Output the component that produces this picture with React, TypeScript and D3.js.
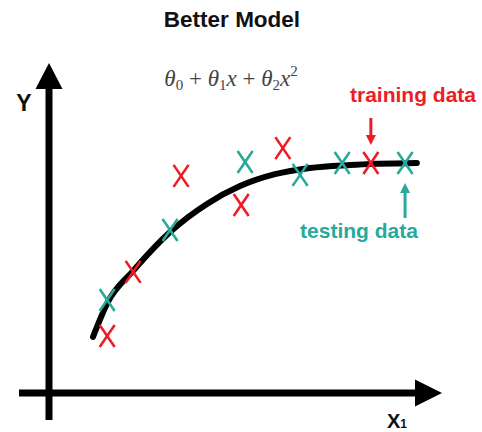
import React from "react";
import * as d3 from "d3";

const W = 482;
const H = 432;

// fitted curve
const curveX = [1.12, 1.5, 2.14, 3.08, 4.02, 4.86, 5.75, 6.64, 7.66, 9.36];
const curveY = [1.7, 2.76, 3.7, 4.88, 5.73, 6.27, 6.63, 6.82, 6.91, 6.97];

// training data (red)
const trainX = [1.48, 2.14, 3.36, 4.89, 5.95, 8.19];
const trainY = [1.73, 3.67, 6.58, 5.7, 7.42, 6.97];

// testing data (teal)
const testX = [1.48, 3.08, 4.99, 6.39, 7.46, 9.06];
const testY = [2.82, 4.94, 7.0, 6.61, 6.97, 6.97];

const RED = "#ee1c25";
const TEAL = "#27a99b";

export default function App() {
  const x = d3.scaleLinear().domain([0, 10]).range([49, 442]);
  const y = d3.scaleLinear().domain([0, 10]).range([393, 63]);

  const curvePts: [number, number][] = curveX.map((v, i) => [v, curveY[i]]);
  const line = d3
    .line<[number, number]>()
    .x((d) => x(d[0]))
    .y((d) => y(d[1]))
    .curve(d3.curveMonotoneX);

  const cross = (cx: number, cy: number, color: string, key: string) => {
    const hw = 7.5;
    const hh = 11;
    return (
      <g key={key} stroke={color} strokeWidth={2.6} strokeLinecap="butt">
        <line x1={cx - hw} y1={cy - hh} x2={cx + hw} y2={cy + hh} />
        <line x1={cx + hw} y1={cy - hh} x2={cx - hw} y2={cy + hh} />
      </g>
    );
  };

  const x0 = x(0);
  const y0 = y(0);
  const xEnd = x(10);
  const yTop = y(10);

  const redArrowX = x(trainX[5]);
  const tealArrowX = x(testX[5]);

  return (
    <svg
      width={W}
      height={H}
      style={{ position: "absolute", left: 0, top: 0, background: "#fff" }}
      fontFamily="'Liberation Sans', Arial, sans-serif"
    >
      {/* title */}
      <text x={232} y={27} textAnchor="middle" fontWeight="bold" fontSize={22.5} fill="#111">
        Better Model
      </text>

      {/* formula */}
      <text
        x={231}
        y={86}
        textAnchor="middle"
        fontFamily="'Liberation Serif', 'DejaVu Serif', serif"
        fontSize={23}
        fill="#444"
      >
        <tspan fontStyle="italic">θ</tspan>
        <tspan fontSize={15} dy={4}>0</tspan>
        <tspan dy={-4}> + </tspan>
        <tspan fontStyle="italic">θ</tspan>
        <tspan fontSize={15} dy={4}>1</tspan>
        <tspan dy={-4} fontStyle="italic">x</tspan>
        <tspan> + </tspan>
        <tspan fontStyle="italic">θ</tspan>
        <tspan fontSize={15} dy={4}>2</tspan>
        <tspan dy={-4} fontStyle="italic">x</tspan>
        <tspan fontSize={15} dy={-10}>2</tspan>
      </text>

      {/* axes */}
      <line x1={x0} y1={420} x2={x0} y2={yTop + 25} stroke="#000" strokeWidth={7} />
      <path d={`M${x0 - 13.5},${yTop + 26} L${x0 + 13.5},${yTop + 26} L${x0},${yTop} Z`} fill="#000" />
      <line x1={19} y1={y0} x2={xEnd - 26} y2={y0} stroke="#000" strokeWidth={7} />
      <path d={`M${xEnd - 27},${y0 - 13.5} L${xEnd - 27},${y0 + 13.5} L${xEnd},${y0} Z`} fill="#000" />

      <text x={24} y={111} textAnchor="middle" fontWeight="bold" fontSize={23} fill="#111">
        Y
      </text>
      <text x={397} y={428} textAnchor="middle" fontWeight="bold" fontSize={20} fill="#111">
        X<tspan fontSize={12}>1</tspan>
      </text>

      {/* curve */}
      <path d={line(curvePts) || ""} fill="none" stroke="#000" strokeWidth={6} strokeLinecap="round" />

      {/* points */}
      {trainX.map((v, i) => cross(x(v), y(trainY[i]), RED, `r${i}`))}
      {testX.map((v, i) => cross(x(v), y(testY[i]), TEAL, `t${i}`))}

      {/* annotations */}
      <line x1={redArrowX} y1={118} x2={redArrowX} y2={137} stroke={RED} strokeWidth={3} />
      <path d={`M${redArrowX - 5},${135} L${redArrowX + 5},${135} L${redArrowX},${145} Z`} fill={RED} />
      <text x={413} y={102} textAnchor="middle" fontWeight="bold" fontSize={21} fill={RED}>
        training data
      </text>

      <line x1={tealArrowX} y1={218} x2={tealArrowX} y2={191} stroke={TEAL} strokeWidth={3} />
      <path d={`M${tealArrowX - 5},${193} L${tealArrowX + 5},${193} L${tealArrowX},${183} Z`} fill={TEAL} />
      <text x={359} y={238} textAnchor="middle" fontWeight="bold" fontSize={21} fill={TEAL}>
        testing data
      </text>
    </svg>
  );
}
